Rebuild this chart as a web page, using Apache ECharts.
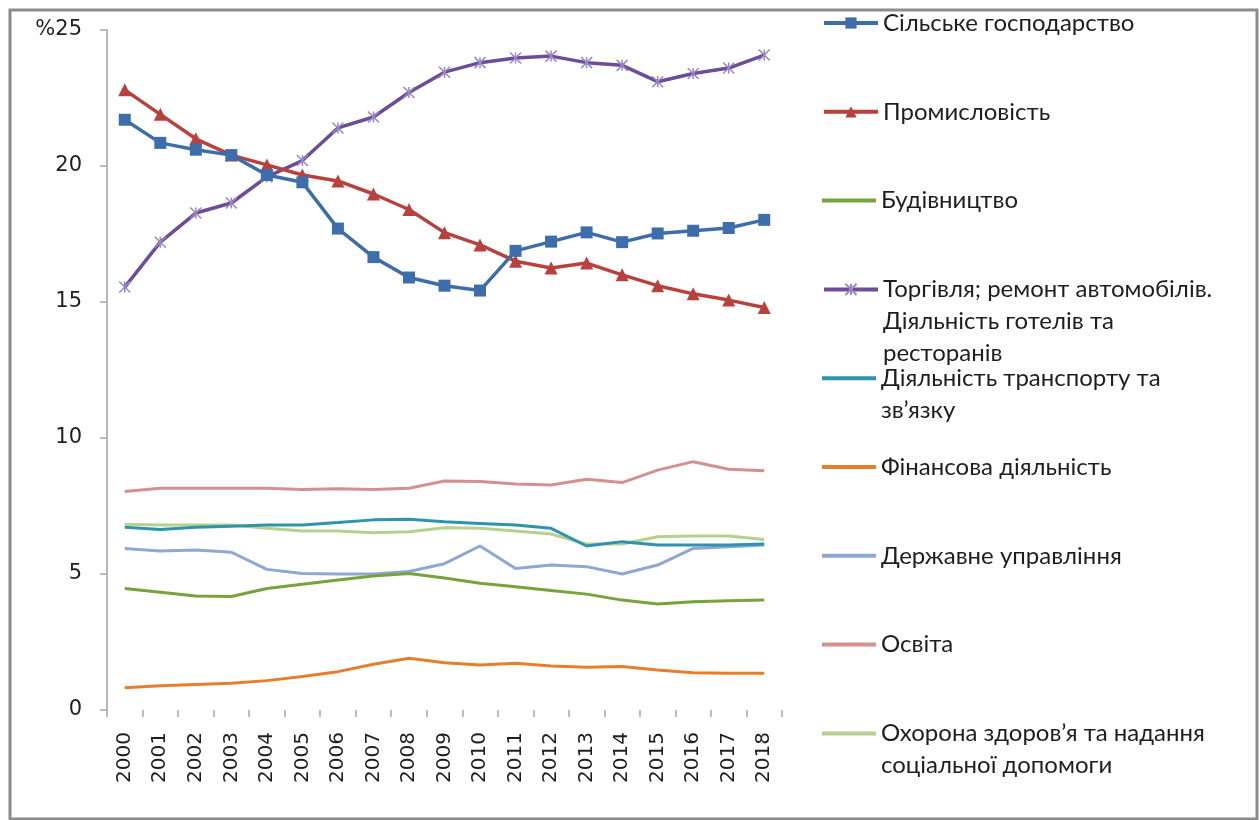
<!DOCTYPE html>
<html>
<head>
<meta charset="utf-8">
<script src="https://cdn.jsdelivr.net/npm/echarts@6/dist/echarts.min.js"></script>
<style>
  html, body { margin: 0; padding: 0; background: #fff; }
  #chart { width: 1259px; height: 820px; }
</style>
</head>
<body>
<div id="chart"></div>
<script>
let years = ['2000', '2001', '2002', '2003', '2004', '2005', '2006', '2007', '2008', '2009',
  '2010', '2011', '2012', '2013', '2014', '2015', '2016', '2017', '2018'];

let agriculture = [21.7, 20.85, 20.6, 20.4, 19.67, 19.4, 17.7, 16.65, 15.9, 15.6,
  15.42, 16.88, 17.22, 17.56, 17.2, 17.52, 17.62, 17.72, 18.02];
let industry = [22.8, 21.9, 21.0, 20.4, 20.04, 19.67, 19.45, 18.97, 18.4, 17.55,
  17.1, 16.5, 16.25, 16.43, 16.0, 15.6, 15.3, 15.07, 14.8];
let construction = [4.47, 4.33, 4.19, 4.17, 4.47, 4.62, 4.78, 4.93, 5.02, 4.85,
  4.66, 4.53, 4.39, 4.26, 4.04, 3.9, 3.98, 4.02, 4.04];
let trade = [15.55, 17.2, 18.27, 18.64, 19.6, 20.2, 21.4, 21.8, 22.7, 23.45,
  23.8, 23.97, 24.04, 23.8, 23.7, 23.1, 23.4, 23.6, 24.08];
let transport = [6.72, 6.64, 6.72, 6.76, 6.8, 6.8, 6.89, 6.99, 7.01, 6.92,
  6.86, 6.8, 6.68, 6.03, 6.19, 6.07, 6.07, 6.07, 6.1];
let finance = [0.82, 0.89, 0.94, 0.98, 1.08, 1.23, 1.41, 1.68, 1.9, 1.74,
  1.65, 1.72, 1.62, 1.57, 1.6, 1.47, 1.37, 1.35, 1.35];
let government = [5.94, 5.85, 5.88, 5.8, 5.17, 5.02, 5.0, 5.0, 5.09, 5.38,
  6.03, 5.2, 5.33, 5.27, 5.0, 5.33, 5.94, 6.0, 6.07];
let education = [8.03, 8.15, 8.15, 8.15, 8.15, 8.11, 8.13, 8.11, 8.15, 8.42,
  8.4, 8.31, 8.27, 8.48, 8.36, 8.82, 9.13, 8.85, 8.8];
let health = [6.83, 6.8, 6.8, 6.8, 6.68, 6.58, 6.58, 6.52, 6.55, 6.7,
  6.68, 6.58, 6.47, 6.1, 6.1, 6.37, 6.4, 6.4, 6.27];

let yTicks = [0, 5, 10, 15, 20, 25];

let names = [
  'Сільське господарство',
  'Промисловість',
  'Будівництво',
  'Торгівля; ремонт автомобілів. Діяльність готелів та ресторанів',
  'Діяльність транспорту та зв’язку',
  'Фінансова діяльність',
  'Державне управління',
  'Освіта',
  'Охорона здоров’я та надання соціальної допомоги'
];
let legendLines = [
  ['Сільське господарство'],
  ['Промисловість'],
  ['Будівництво'],
  ['Торгівля; ремонт автомобілів.', 'Діяльність готелів та', 'ресторанів'],
  ['Діяльність транспорту та', 'зв’язку'],
  ['Фінансова діяльність'],
  ['Державне управління'],
  ['Освіта'],
  ['Охорона здоров’я та надання', 'соціальної допомоги']
];
let values = [agriculture, industry, construction, trade, transport, finance, government, education, health];
let colors = ['#3d6eab', '#b9413d', '#78a23c', '#6d4c98', '#2f93ad', '#e67e2c', '#8fa7d3', '#d49090', '#b6d08f'];

let chart = echarts.init(document.getElementById('chart'));

// marker per series, like the Excel original
function markerFor(i) {
  if (i === 0) return { symbol: 'rect', symbolSize: 12 };
  if (i === 1) return { symbol: 'triangle', symbolSize: 13 };
  if (i === 3) return { symbol: 'path://M0,0L10,10M0,10L10,0M5,0L5,10', symbolSize: 11 };
  return { symbol: 'none', symbolSize: 0 };
}

let series = values.map((data, i) => {
  let m = markerFor(i);
  let s = {
    name: names[i],
    type: 'line',
    data: data,
    symbol: m.symbol,
    symbolSize: m.symbolSize,
    showSymbol: m.symbol !== 'none',
    symbolKeepAspect: true,
    lineStyle: { color: colors[i], width: i < 2 ? 3.5 : 3 },
    itemStyle: { color: colors[i], borderWidth: 0 },
    z: 10 - i
  };
  if (i === 3) {
    s.lineStyle.width = 3.5;
    s.itemStyle = { color: colors[i], borderColor: '#9b86c6', borderWidth: 1.5 };
  }
  return s;
});

// one legend block per series so every entry sits in its own fixed slot;
// blank lines in front keep the icon level with the first text line
const LH = 32;
let legends = names.map((name, i) => {
  let n = legendLines[i].length;
  let center = 23 + i * 88.8;
  let plain = markerFor(i).symbol === 'none';
  let lg = {
    orient: 'vertical',
    left: 822,
    top: center - (2 * n - 1) * LH / 2,
    padding: 0,
    itemWidth: 54,
    itemHeight: plain ? 4 : 14,
    data: [name],
    selectedMode: false,
    formatter: () => '\n'.repeat(n - 1) + legendLines[i].join('\n'),
    textStyle: {
      fontFamily: 'Lato',
      fontSize: 24,
      color: '#1e1e1e',
      lineHeight: LH
    }
  };
  if (plain) lg.icon = 'rect';
  else lg.lineStyle = { width: 4 };
  return lg;
});

let options = {
  animation: false,
  backgroundColor: '#fff',
  grid: { left: 107, right: 477, top: 30, bottom: 110 },
  legend: legends,
  xAxis: {
    type: 'category',
    data: years,
    boundaryGap: true,
    axisLine: { show: false },
    axisTick: { show: true, length: 7, lineStyle: { color: '#a8a8a8', width: 1.5 } },
    axisLabel: {
      rotate: 90,
      margin: 22,
      fontFamily: 'DejaVu Sans',
      fontSize: 20,
      color: '#1e1e1e'
    }
  },
  yAxis: {
    type: 'value',
    min: yTicks[0],
    max: yTicks[yTicks.length - 1],
    interval: yTicks[1] - yTicks[0],
    splitLine: { show: false },
    axisLine: { show: true, lineStyle: { color: '#b8b8b8', width: 2 } },
    axisTick: { show: true, length: 7, lineStyle: { color: '#a8a8a8', width: 1.5 } },
    axisLabel: {
      margin: 25,
      fontFamily: 'DejaVu Sans',
      fontSize: 21,
      color: '#1e1e1e',
      formatter: v => (v === 25 ? '%' + v : '' + v)
    }
  },
  graphic: [
    {
      type: 'rect',
      shape: { x: 10, y: 10, width: 1247, height: 809 },
      style: { fill: 'none', stroke: '#8c8c8c', lineWidth: 3 },
      silent: true
    }
  ],
  series: series
};

chart.setOption(options);
</script>
</body>
</html>
